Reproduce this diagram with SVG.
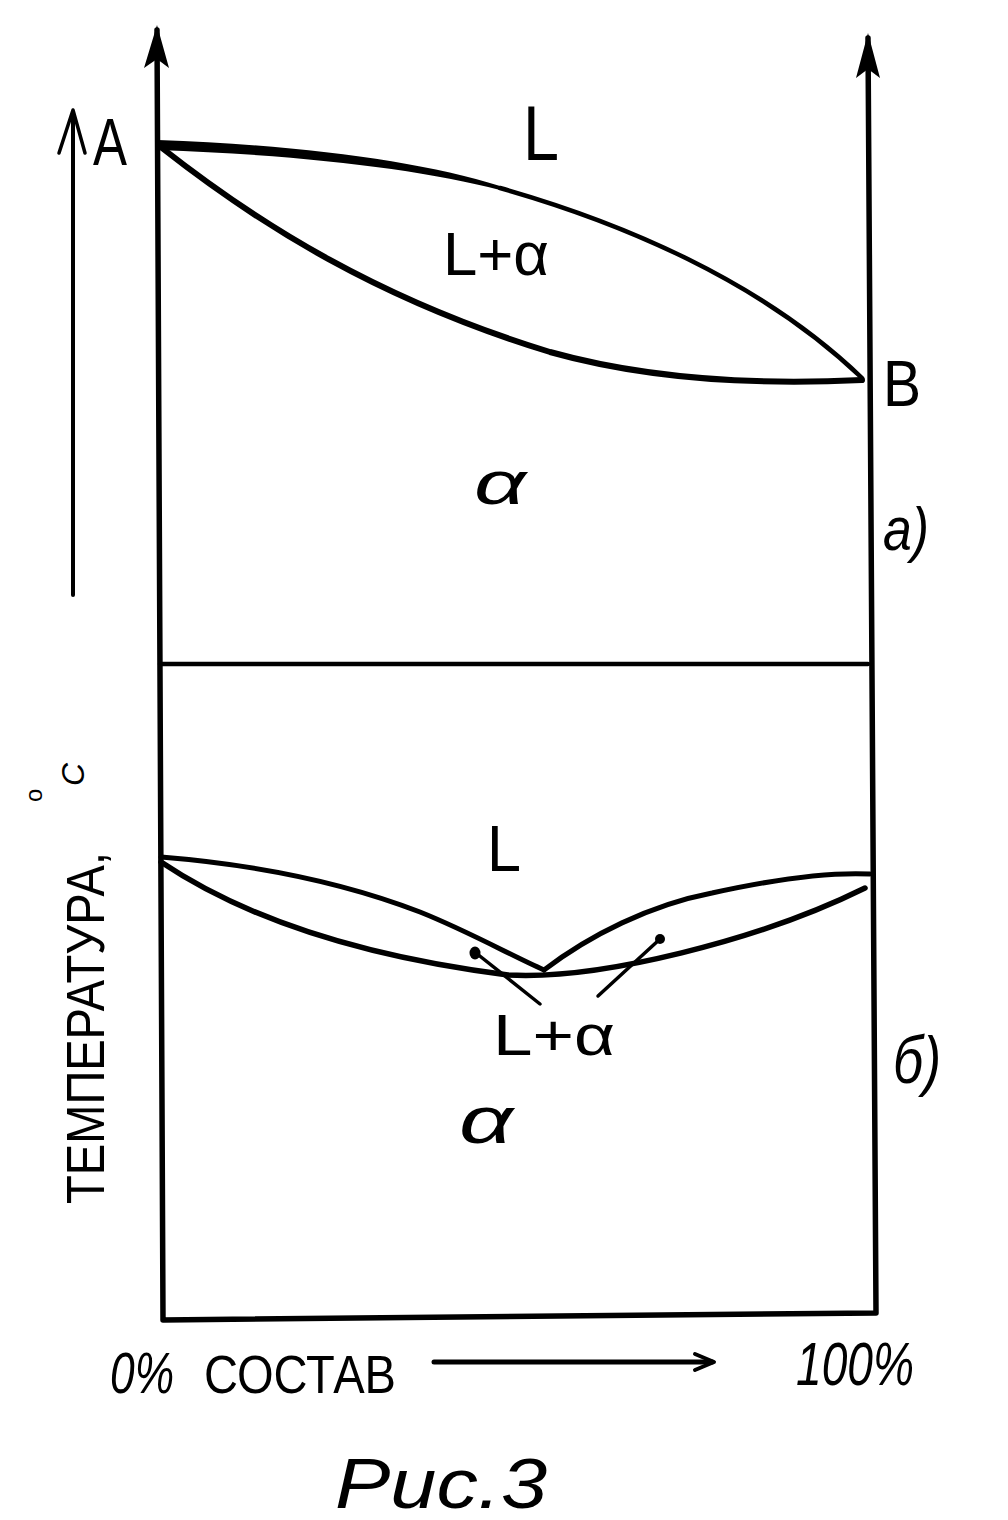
<svg xmlns="http://www.w3.org/2000/svg" width="1008" height="1520" viewBox="0 0 1008 1520">
<style>
.ln{fill:none;stroke:#000;stroke-linecap:round;stroke-linejoin:round}
.t{font-family:"Liberation Sans","DejaVu Sans",sans-serif;fill:#000}
</style>
<rect width="1008" height="1520" fill="#fff"/>
<g id="axes">
  <path class="ln" d="M157,30 L163,1320 L876,1313 L868,38" stroke-width="5.5"/>
  <path d="M157,25 L144,68 L157,59 L169,68 Z" fill="#000"/>
  <path d="M868,33 L856,78 L868,69 L880,78 Z" fill="#000"/>
  <path class="ln" d="M160,664 L868,664" stroke-width="4.5"/>
  <path class="ln" d="M73,113 L73,595" stroke-width="4"/>
  <path class="ln" d="M59,153 L73,110 L85,153" stroke-width="3.5"/>
  <path class="ln" d="M434,1362 L712,1362" stroke-width="5"/>
  <path class="ln" d="M695,1354 L714,1362 L695,1370" stroke-width="4"/>
</g>
<g id="diagram-a">
  <path d="M158,140 C300,145 420,161 500,186 L500,190 C420,169 300,155 158,150 Z" fill="#000"/>
  <path class="ln" d="M500,188 C620,222 760,280 862,378" stroke-width="4.5"/>
  <path class="ln" d="M162,148 C260,225 380,300 550,352 C650,380 760,385 862,380" stroke-width="6"/>
</g>
<g id="diagram-b">
  <path class="ln" d="M161,857 C260,865 350,885 420,912 C470,932 510,955 544,970" stroke-width="5"/>
  <path class="ln" d="M161,862 C240,915 350,955 508,975 C600,980 760,940 865,888" stroke-width="5.5"/>
  <path class="ln" d="M544,970 C590,935 650,905 712,893 C780,878 830,872 870,874" stroke-width="5"/>
  <path class="ln" d="M476,953 L540,1004" stroke-width="3.5"/>
  <ellipse cx="475" cy="953" rx="5.5" ry="6.5" fill="#000"/>
  <path class="ln" d="M660,939 L598,996" stroke-width="3.5"/>
  <circle cx="660" cy="939" r="5" fill="#000"/>
</g>
<g id="labels">
  <text class="t" x="93" y="165" font-size="66" textLength="34" lengthAdjust="spacingAndGlyphs">A</text>
  <text class="t" x="523" y="160" font-size="78" textLength="36" lengthAdjust="spacingAndGlyphs">L</text>
  <text class="t" x="443" y="275" font-size="62" textLength="106" lengthAdjust="spacingAndGlyphs">L+α</text>
  <text class="t" x="883" y="406" font-size="64" textLength="38" lengthAdjust="spacingAndGlyphs">B</text>
  <text class="t" x="474" y="504" font-size="62" font-style="italic" textLength="52" lengthAdjust="spacingAndGlyphs">α</text>
  <text class="t" x="883" y="550" font-size="62" font-style="italic" textLength="46" lengthAdjust="spacingAndGlyphs">a)</text>
  <text class="t" x="487" y="871" font-size="64" textLength="34" lengthAdjust="spacingAndGlyphs">L</text>
  <text class="t" x="493" y="1055" font-size="58" textLength="122" lengthAdjust="spacingAndGlyphs">L+α</text>
  <text class="t" x="459" y="1143" font-size="66" font-style="italic" textLength="54" lengthAdjust="spacingAndGlyphs">α</text>
  <text class="t" x="893" y="1083" font-size="66" font-style="italic" textLength="48" lengthAdjust="spacingAndGlyphs">б)</text>
  <g transform="translate(104,1204) rotate(-90)">
    <text class="t" x="0" y="0" font-size="54" textLength="352" lengthAdjust="spacingAndGlyphs">ТЕМПЕРАТУРА,</text>
    <text class="t" x="402" y="-62" font-size="24">o</text>
    <text class="t" x="418" y="-20" font-size="32" font-style="italic">C</text>
  </g>
  <text class="t" x="110" y="1393" font-size="58" font-style="italic" textLength="64" lengthAdjust="spacingAndGlyphs">0%</text>
  <text class="t" x="204" y="1393" font-size="54" textLength="192" lengthAdjust="spacingAndGlyphs">СОСТАВ</text>
  <text class="t" x="796" y="1385" font-size="62" font-style="italic" textLength="118" lengthAdjust="spacingAndGlyphs">100%</text>
  <text class="t" x="335" y="1508" font-size="70" font-style="italic" textLength="212" lengthAdjust="spacingAndGlyphs">Рис.3</text>
</g>
</svg>
